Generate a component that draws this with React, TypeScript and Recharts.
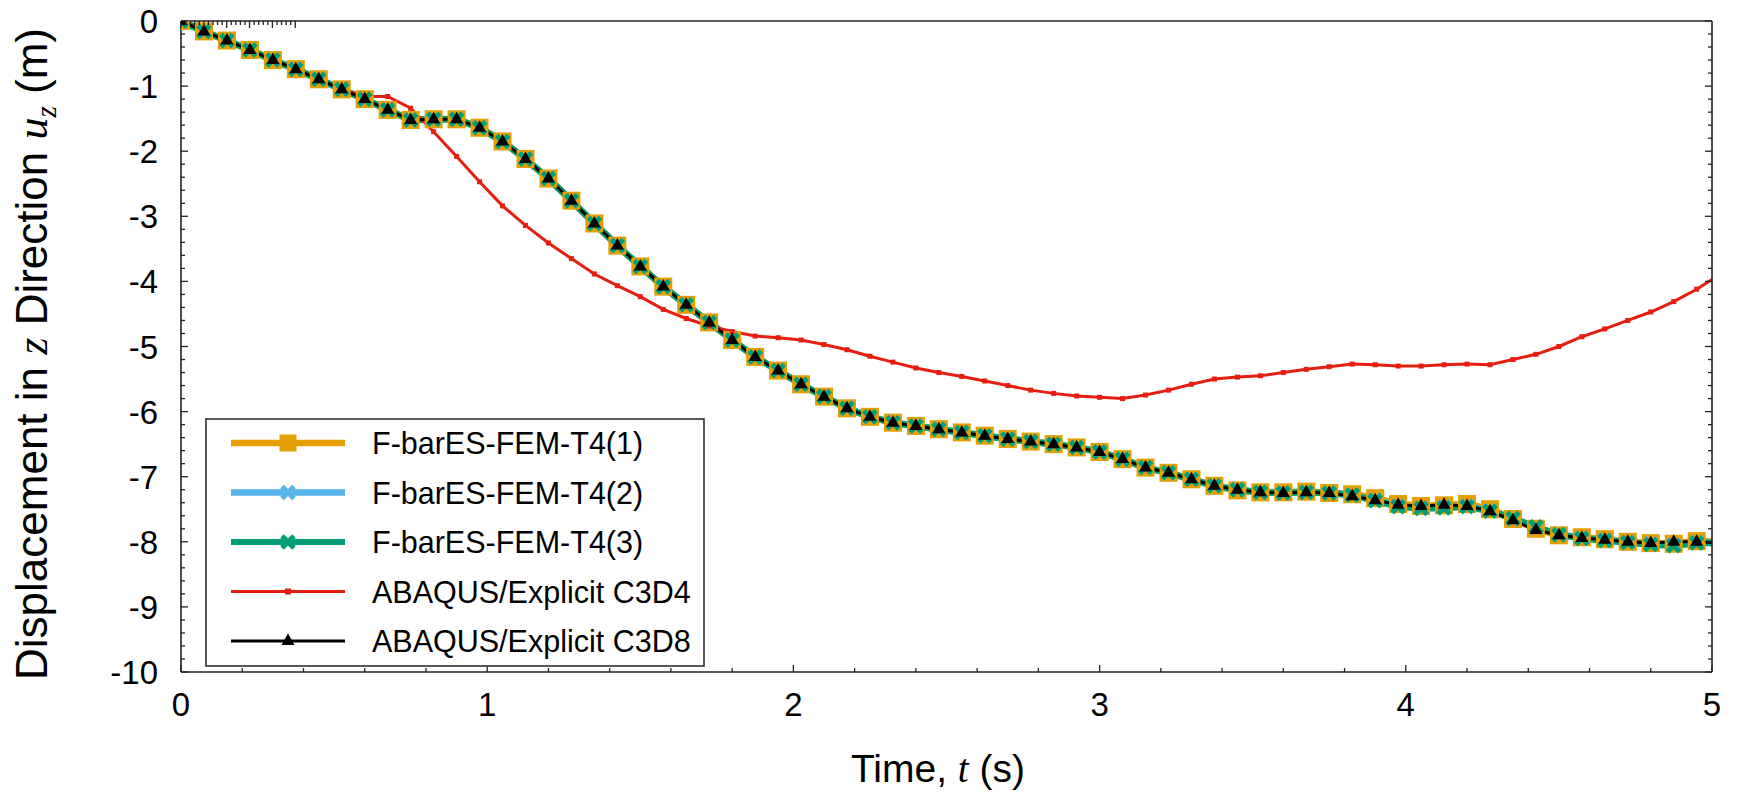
import React from "react";
import { LineChart, Line, XAxis, YAxis } from "recharts";

// time samples (s); markers every 0.075 s, line runs to 5.0
const TIME = [
  0, 0.075, 0.15, 0.225, 0.3, 0.375, 0.45, 0.525, 0.6, 0.675, 0.75, 0.825, 0.9, 0.975,
  1.05, 1.125, 1.2, 1.275, 1.35, 1.425, 1.5, 1.575, 1.65, 1.725, 1.8, 1.875, 1.95, 2.025,
  2.1, 2.175, 2.25, 2.325, 2.4, 2.475, 2.55, 2.625, 2.7, 2.775, 2.85, 2.925, 3.0, 3.075,
  3.15, 3.225, 3.3, 3.375, 3.45, 3.525, 3.6, 3.675, 3.75, 3.825, 3.9, 3.975, 4.05, 4.125,
  4.2, 4.275, 4.35, 4.425, 4.5, 4.575, 4.65, 4.725, 4.8, 4.875, 4.95, 5.0,
];

const FBAR_T4_1 = [
  0, -0.16, -0.3, -0.445, -0.6, -0.74, -0.895, -1.05, -1.2, -1.365, -1.52, -1.51, -1.51, -1.64,
  -1.85, -2.12, -2.42, -2.76, -3.11, -3.45, -3.77, -4.08, -4.36, -4.63, -4.9, -5.16, -5.37, -5.58,
  -5.77, -5.95, -6.08, -6.17, -6.22, -6.27, -6.32, -6.37, -6.42, -6.46, -6.5, -6.55, -6.62, -6.73,
  -6.86, -6.94, -7.04, -7.14, -7.21, -7.24, -7.24, -7.23, -7.25, -7.27, -7.33, -7.42, -7.45, -7.44,
  -7.42, -7.5, -7.65, -7.8, -7.9, -7.93, -7.96, -8.0, -8.02, -8.03, -7.99, -8.0,
];

const FBAR_T4_2 = [
  0, -0.16, -0.3, -0.445, -0.6, -0.74, -0.895, -1.05, -1.2, -1.365, -1.52, -1.51, -1.51, -1.64,
  -1.85, -2.12, -2.42, -2.76, -3.11, -3.45, -3.77, -4.08, -4.36, -4.63, -4.9, -5.16, -5.37, -5.58,
  -5.77, -5.95, -6.08, -6.17, -6.22, -6.27, -6.32, -6.37, -6.42, -6.46, -6.5, -6.55, -6.62, -6.73,
  -6.86, -6.94, -7.04, -7.14, -7.2, -7.24, -7.25, -7.24, -7.25, -7.28, -7.36, -7.45, -7.48, -7.47,
  -7.45, -7.52, -7.65, -7.78, -7.89, -7.94, -7.97, -8.01, -8.03, -8.05, -8.01, -8.01,
];

const FBAR_T4_3 = [
  0, -0.16, -0.3, -0.445, -0.6, -0.74, -0.895, -1.05, -1.2, -1.365, -1.52, -1.51, -1.51, -1.64,
  -1.85, -2.12, -2.42, -2.76, -3.11, -3.45, -3.77, -4.08, -4.36, -4.63, -4.9, -5.16, -5.37, -5.58,
  -5.77, -5.95, -6.08, -6.17, -6.22, -6.27, -6.32, -6.37, -6.42, -6.46, -6.5, -6.55, -6.62, -6.73,
  -6.86, -6.94, -7.04, -7.14, -7.2, -7.24, -7.25, -7.24, -7.25, -7.28, -7.37, -7.46, -7.49, -7.48,
  -7.46, -7.53, -7.64, -7.77, -7.89, -7.95, -7.98, -8.01, -8.04, -8.06, -8.02, -8.02,
];

const ABAQUS_C3D4 = [
  0, -0.16, -0.3, -0.445, -0.6, -0.74, -0.895, -1.05, -1.16, -1.16, -1.34, -1.7, -2.08, -2.47,
  -2.84, -3.14, -3.41, -3.65, -3.886, -4.066, -4.235, -4.43, -4.57, -4.685, -4.77, -4.84, -4.865, -4.9,
  -4.97, -5.05, -5.15, -5.24, -5.33, -5.4, -5.46, -5.53, -5.6, -5.67, -5.72, -5.76, -5.78, -5.8,
  -5.745, -5.67, -5.58, -5.5, -5.47, -5.45, -5.4, -5.35, -5.31, -5.27, -5.28, -5.3, -5.3, -5.28,
  -5.27, -5.28, -5.2, -5.12, -5.0, -4.85, -4.73, -4.6, -4.47, -4.31, -4.12, -3.97,
];

const ABAQUS_C3D8 = [
  0, -0.16, -0.3, -0.445, -0.6, -0.74, -0.895, -1.05, -1.2, -1.365, -1.52, -1.51, -1.51, -1.64,
  -1.85, -2.12, -2.42, -2.76, -3.11, -3.45, -3.77, -4.08, -4.36, -4.63, -4.9, -5.16, -5.37, -5.58,
  -5.77, -5.95, -6.08, -6.17, -6.22, -6.27, -6.32, -6.37, -6.42, -6.46, -6.5, -6.55, -6.62, -6.73,
  -6.86, -6.94, -7.04, -7.14, -7.2, -7.24, -7.25, -7.24, -7.25, -7.3, -7.36, -7.43, -7.45, -7.43,
  -7.45, -7.53, -7.67, -7.82, -7.9, -7.94, -7.97, -8.0, -8.02, -8.0, -8.0, -8.01,
];

const X_LABELS = [0, 1, 2, 3, 4, 5];
const Y_LABELS = [0, -1, -2, -3, -4, -5, -6, -7, -8, -9, -10];
const SERIES_NAMES = [
  "F-barES-FEM-T4(1)",
  "F-barES-FEM-T4(2)",
  "F-barES-FEM-T4(3)",
  "ABAQUS/Explicit C3D4",
  "ABAQUS/Explicit C3D8",
];

const ORANGE = "#E69F00";
const BLUE = "#56B4E9";
const GREEN = "#009E73";
const RED = "#E51E10";
const BLACK = "#000000";
const AXIS = "#222222";
const SANS = "'Liberation Sans', Arial, Helvetica, sans-serif";
const SERIF = "'Liberation Serif', 'Times New Roman', serif";

const chartData = TIME.map((t, i) => ({
  t,
  f1: FBAR_T4_1[i],
  f2: FBAR_T4_2[i],
  f3: FBAR_T4_3[i],
  c4: ABAQUS_C3D4[i],
  c8: ABAQUS_C3D8[i],
}));

// minor ticks every 0.2 between the labelled ones
const xTicks: number[] = [];
for (let i = 0; i < X_LABELS.length - 1; i++) {
  for (let j = 0; j < 5; j++) xTicks.push(Math.round((X_LABELS[i] + j * 0.2) * 10) / 10);
}
xTicks.push(X_LABELS[X_LABELS.length - 1]);
const yTicks: number[] = [];
for (let i = 0; i < Y_LABELS.length - 1; i++) {
  for (let j = 0; j < 5; j++) yTicks.push(Math.round((Y_LABELS[i] - j * 0.2) * 10) / 10);
}
yTicks.push(Y_LABELS[Y_LABELS.length - 1]);

const isMajor = (v: number) => Math.abs(v - Math.round(v)) < 1e-6;

// ---- ticks (drawn inward, gnuplot style) ----
const BottomTick = (p: any) => {
  const v = p.payload.value;
  const len = isMajor(v) ? 7 : 4;
  return (
    <g>
      <line x1={p.x} x2={p.x} y1={p.y} y2={p.y - len} stroke={AXIS} strokeWidth={1.3} />
      {isMajor(v) && (
        <text x={p.x} y={p.y + 44} textAnchor="middle" fontSize={33} fontFamily={SANS} fill="#000">
          {Math.round(v)}
        </text>
      )}
    </g>
  );
};
const TopTick = (p: any) => {
  const len = isMajor(p.payload.value) ? 7 : 4;
  return <line x1={p.x} x2={p.x} y1={p.y} y2={p.y + len} stroke={AXIS} strokeWidth={1.3} />;
};
const LeftTick = (p: any) => {
  const v = p.payload.value;
  const len = isMajor(v) ? 7 : 4;
  return (
    <g>
      <line x1={p.x} x2={p.x + len} y1={p.y} y2={p.y} stroke={AXIS} strokeWidth={1.3} />
      {isMajor(v) && (
        <text x={p.x - 23} y={p.y + 12} textAnchor="end" fontSize={33} fontFamily={SANS} fill="#000">
          {Math.round(v)}
        </text>
      )}
    </g>
  );
};
const RightTick = (p: any) => {
  const len = isMajor(p.payload.value) ? 7 : 4;
  return <line x1={p.x} x2={p.x - len} y1={p.y} y2={p.y} stroke={AXIS} strokeWidth={1.3} />;
};

// ---- markers ----
const hideLast = (p: any) => p.cx == null || p.payload?.t === 5;
const squareDot = (size: number, fill: string) => (p: any) =>
  hideLast(p) ? (
    <g key={`s${p.index}`} />
  ) : (
    <rect key={`s${p.index}`} x={p.cx - size / 2} y={p.cy - size / 2} width={size} height={size} fill={fill} />
  );
const crossPath = (x: number, y: number) =>
  `M${x - 6} ${y - 6}L${x + 6} ${y + 6}M${x - 6} ${y + 6}L${x + 6} ${y - 6}`;
const crossDot = (color: string) => (p: any) =>
  hideLast(p) ? (
    <g key={`x${p.index}`} />
  ) : (
    <path key={`x${p.index}`} d={crossPath(p.cx, p.cy)} stroke={color} strokeWidth={5} />
  );
const triPath = (x: number, y: number) => `M${x} ${y - 7.5}L${x + 6.5} ${y + 4}L${x - 6.5} ${y + 4}Z`;
const triangleDot = (p: any) =>
  hideLast(p) ? <g key={`t${p.index}`} /> : <path key={`t${p.index}`} d={triPath(p.cx, p.cy)} fill={BLACK} />;

const XTitle = () => (
  <text x={938} y={782} textAnchor="middle" fontSize={39} fontFamily={SANS} fill="#000">
    Time, <tspan fontFamily={SERIF} fontStyle="italic">t</tspan> (s)
  </text>
);
const YTitle = () => (
  <text
    x={47}
    y={354}
    transform="rotate(-90, 47, 354)"
    textAnchor="middle"
    fontSize={44}
    fontFamily={SANS}
    fill="#000"
  >
    Displacement in <tspan fontFamily={SERIF} fontStyle="italic">z</tspan> Direction{" "}
    <tspan fontFamily={SERIF} fontStyle="italic">u</tspan>
    <tspan fontFamily={SERIF} fontStyle="italic" fontSize={29} dy={9}>z</tspan>
    <tspan dy={-9}> (m)</tspan>
  </text>
);

const LEGEND_STYLE = [
  { color: ORANGE, width: 6.5, marker: "square" },
  { color: BLUE, width: 6.5, marker: "cross" },
  { color: GREEN, width: 6, marker: "cross" },
  { color: RED, width: 3, marker: "small" },
  { color: BLACK, width: 3, marker: "tri" },
];

function LegendBox() {
  return (
    <svg width={500} height={249} style={{ position: "absolute", left: 205, top: 418, background: "#fff" }}>
      <rect x={1} y={1} width={498} height={247} fill="#fff" stroke={AXIS} strokeWidth={1.5} />
      {SERIES_NAMES.map((name, i) => {
        const s = LEGEND_STYLE[i];
        const y = 25 + i * 49.5;
        const cx = 83;
        return (
          <g key={name}>
            <line x1={26} x2={140} y1={y} y2={y} stroke={s.color} strokeWidth={s.width} />
            {s.marker === "square" && <rect x={cx - 8.5} y={y - 8.5} width={17} height={17} fill={s.color} />}
            {s.marker === "cross" && <path d={crossPath(cx, y)} stroke={s.color} strokeWidth={5} />}
            {s.marker === "small" && <rect x={cx - 3} y={y - 3} width={6} height={6} fill={s.color} />}
            {s.marker === "tri" && <path d={triPath(cx, y)} fill={s.color} />}
            <text x={167} y={y + 11} fontSize={30.5} fontFamily={SANS} fill="#000">
              {name}
            </text>
          </g>
        );
      })}
    </svg>
  );
}

export default function App() {
  return (
    <div style={{ position: "absolute", left: 0, top: 0, width: 1743, height: 799, background: "#fff" }}>
      <LineChart width={1743} height={799} data={chartData} margin={{ top: 0, right: 0, bottom: 0, left: 0 }}>
        <XAxis
          dataKey="t"
          type="number"
          domain={[0, 5]}
          ticks={xTicks}
          interval={0}
          height={127}
          tickSize={0}
          tickMargin={0}
          tickLine={false}
          axisLine={{ stroke: AXIS, strokeWidth: 1.6 }}
          tick={BottomTick}
          label={<XTitle />}
          allowDataOverflow
        />
        <XAxis
          xAxisId="top"
          orientation="top"
          type="number"
          domain={[0, 5]}
          ticks={xTicks}
          interval={0}
          height={21}
          tickSize={0}
          tickMargin={0}
          tickLine={false}
          axisLine={{ stroke: AXIS, strokeWidth: 1.6 }}
          tick={TopTick}
          allowDataOverflow
        />
        <YAxis
          type="number"
          domain={[-10, 0]}
          ticks={yTicks}
          interval={0}
          width={181}
          tickSize={0}
          tickMargin={0}
          tickLine={false}
          axisLine={{ stroke: AXIS, strokeWidth: 1.6 }}
          tick={LeftTick}
          label={<YTitle />}
          allowDataOverflow
        />
        <YAxis
          yAxisId="right"
          orientation="right"
          type="number"
          domain={[-10, 0]}
          ticks={yTicks}
          interval={0}
          width={31}
          tickSize={0}
          tickMargin={0}
          tickLine={false}
          axisLine={{ stroke: AXIS, strokeWidth: 1.6 }}
          tick={RightTick}
          allowDataOverflow
        />
        <Line dataKey="f1" type="linear" stroke={ORANGE} strokeWidth={7} dot={squareDot(18, ORANGE)} isAnimationActive={false} />
        <Line dataKey="f2" type="linear" stroke={BLUE} strokeWidth={6.5} dot={crossDot(BLUE)} isAnimationActive={false} />
        <Line dataKey="f3" type="linear" stroke={GREEN} strokeWidth={6.5} dot={crossDot(GREEN)} isAnimationActive={false} />
        <Line dataKey="c4" type="linear" stroke={RED} strokeWidth={3} dot={squareDot(5, RED)} isAnimationActive={false} />
        <Line dataKey="c8" type="linear" stroke={BLACK} strokeWidth={3} dot={triangleDot} isAnimationActive={false} />
      </LineChart>
      <LegendBox />
    </div>
  );
}
